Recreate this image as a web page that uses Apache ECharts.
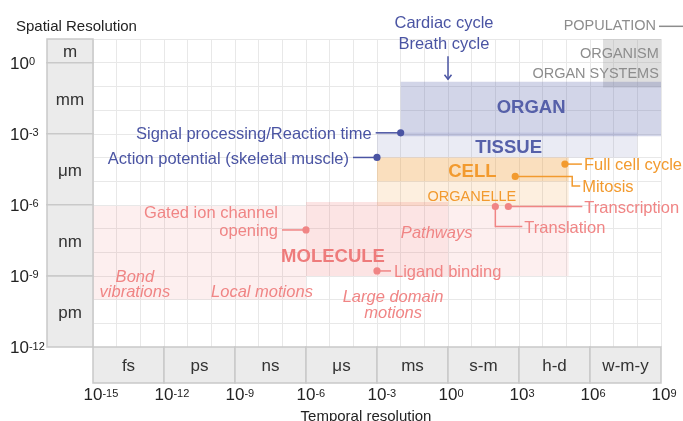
<!DOCTYPE html>
<html>
<head>
<meta charset="utf-8">
<script src="https://cdn.jsdelivr.net/npm/echarts@6/dist/echarts.min.js"></script>
<style>
  html, body { margin: 0; padding: 0; background: #fff; }
  #chart { width: 683px; height: 421px; }
</style>
</head>
<body>
<div id="chart"></div>
<script>
// everything is in log10 units: time in seconds, size in metres
var spaceBands = ['m', 'mm', 'μm', 'nm', 'pm'];
var spaceBandRange = [[0, 1], [-3, 0], [-6, -3], [-9, -6], [-12, -9]];
var timeBands = ['fs', 'ps', 'ns', 'μs', 'ms', 's-m', 'h-d', 'w-m-y'];
var timeBandRange = [[-15, -12], [-12, -9], [-9, -6], [-6, -3], [-3, 0], [0, 3], [3, 6], [6, 9]];

// boxes covered by each level of organisation
var regionNames = ['ORGANISM', 'ORGAN', 'TISSUE', 'CELL', 'ORGANELLE', 'MOLECULE', 'MOLECULE', 'MOLECULE'];
var regionTime = [[6.55, 9], [-2, 9], [-3, 8], [-3, 5.1], [-3, 5.1], [-15, -6], [-6, 0], [0, 5.1]];
var regionSize = [[-1.05, 1], [-3.1, -0.8], [-4, -2.95], [-5, -4], [-6.05, -5], [-10, -6.05], [-9, -5.88], [-9, -6.05]];

// level names
var scaleLabels = ['POPULATION', 'ORGANISM', 'ORGAN SYSTEMS', 'ORGAN', 'TISSUE', 'CELL', 'ORGANELLE', 'MOLECULE'];
var scaleLabelTime = [8.79, 8.91, 8.91, 3.51, 2.56, 1.03, 1.01, -4.86];
var scaleLabelSize = [1.62, 0.45, -0.40, -1.84, -3.53, -4.55, -5.58, -8.12];

// molecular processes (no marker)
var processLabels = ['Bond\nvibrations', 'Local motions', 'Pathways', 'Large domain\nmotions'];
var processTime = [-13.23, -7.86, -0.48, -2.32];
var processSize = [-9.32, -9.63, -7.15, -10.18];

// single events with a marker
var eventNames = ['Cardiac cycle\nBreath cycle', 'Signal processing/Reaction time', 'Action potential (skeletal muscle)',
  'Full cell cycle', 'Mitosis', 'Transcription', 'Translation', 'Gated ion channel\nopening', 'Ligand binding'];
var eventTime = [0, -2, -3, 4.94, 2.84, 2.55, 2.0, -6, -3];
var eventSize = [-0.7, -2.96, -4, -4.28, -4.8, -6.07, -6.07, -7.06, -8.79];

var BLUE = '#4a54a3', BLUE2 = '#5660a9', ORANGE = '#f29a2e', PINK = '#f08585', PINK2 = '#ee7b7b', GRAY = '#8d8d8d';
var FONT = '"Liberation Sans", Arial, sans-serif';

var regionColors = ['rgba(150,150,150,0.3)', 'rgba(90,100,170,0.27)', 'rgba(90,100,170,0.13)',
  'rgba(240,150,40,0.3)', 'rgba(240,150,40,0.15)',
  'rgba(240,120,120,0.12)', 'rgba(240,120,120,0.2)', 'rgba(240,120,120,0.12)'];

var scaleStyle = [
  { color: GRAY, size: 14.5, align: 'right', line: true },
  { color: GRAY, size: 14.5, align: 'right' },
  { color: GRAY, size: 14.5, align: 'right' },
  { color: BLUE2, size: 18.5, weight: 'bold' },
  { color: BLUE2, size: 18.5, weight: 'bold' },
  { color: ORANGE, size: 18.5, weight: 'bold' },
  { color: ORANGE, size: 14.5 },
  { color: PINK2, size: 18.5, weight: 'bold' }
];
var processLineHeight = [15, 18, 18, 16];

// leader lines in pixels from the marker
var eventLayout = [
  { color: BLUE, dot: false, arrow: true, path: [[0, -23]], label: [-4, -47.5], align: 'center', lh: 21 },
  { color: BLUE, path: [[-25, 0]], label: [-29, 0], align: 'right' },
  { color: BLUE, path: [[-24, 0]], label: [-28, 0], align: 'right' },
  { color: ORANGE, path: [[17, 0]], label: [19, 0], align: 'left' },
  { color: ORANGE, path: [[57, 0], [57, 9.5], [65, 9.5]], label: [67, 9.5], align: 'left' },
  { color: PINK, path: [[74, 0]], label: [76, 0], align: 'left' },
  { color: PINK, path: [[0, 20], [27, 20]], label: [29, 20], align: 'left' },
  { color: PINK, path: [[-24, 0]], label: [-28, 9.2], align: 'right', va: 'bottom', lh: 18.4 },
  { color: PINK, path: [[14, 0]], label: [17, 0], align: 'left' }
];

// text baseline sits a little high with this font
var TEXT_DY = 1.7;

function textEl(x, y, text, o) {
  return {
    type: 'text', x: x, y: y + TEXT_DY, z2: 10,
    style: {
      text: text, fill: o.color, fontSize: o.size, fontFamily: FONT,
      fontWeight: o.weight || 'normal', fontStyle: o.italic ? 'italic' : 'normal',
      align: o.align || 'center', textAlign: o.align || 'center',
      verticalAlign: o.va || 'middle', textVerticalAlign: o.va || 'middle',
      lineHeight: o.lh
    }
  };
}

function renderRegion(params, api) {
  var a = api.coord([api.value(0), api.value(3)]);
  var b = api.coord([api.value(1), api.value(2)]);
  return {
    type: 'rect',
    shape: { x: a[0], y: a[1], width: b[0] - a[0], height: b[1] - a[1] },
    style: { fill: regionColors[params.dataIndex] }
  };
}

function renderScaleLabel(params, api) {
  var i = params.dataIndex, s = scaleStyle[i];
  var p = api.coord([api.value(0), api.value(1)]);
  var kids = [textEl(p[0], p[1], scaleLabels[i], s)];
  if (s.line) {
    kids.push({ type: 'line', shape: { x1: p[0] + 3, y1: p[1] + 2, x2: p[0] + 32, y2: p[1] + 2 },
      style: { stroke: GRAY, lineWidth: 1.5 } });
  }
  return { type: 'group', children: kids };
}

function renderProcess(params, api) {
  var i = params.dataIndex;
  var p = api.coord([api.value(0), api.value(1)]);
  return textEl(p[0], p[1], processLabels[i], { color: PINK, size: 16.5, italic: true, lh: processLineHeight[i] });
}

function renderEvent(params, api) {
  var i = params.dataIndex, L = eventLayout[i];
  var p = api.coord([api.value(0), api.value(1)]);
  var pts = [p].concat(L.path.map(function (d) { return [p[0] + d[0], p[1] + d[1]]; }));
  var kids = [{ type: 'polyline', shape: { points: pts }, style: { stroke: L.color, lineWidth: 1.5, fill: null } }];
  if (L.dot !== false) {
    kids.push({ type: 'circle', shape: { cx: p[0], cy: p[1], r: 3.6 }, style: { fill: L.color } });
  }
  if (L.arrow) {
    kids.push({ type: 'polyline', shape: { points: [[p[0] - 3.5, p[1] - 4.5], [p[0], p[1]], [p[0] + 3.5, p[1] - 4.5]] },
      style: { stroke: L.color, lineWidth: 1.5, fill: null } });
  }
  kids.push(textEl(p[0] + L.label[0], p[1] + L.label[1], eventNames[i],
    { color: L.color, size: 16.5, align: L.align, va: L.va, lh: L.lh }));
  return { type: 'group', children: kids };
}

function bandBox(x, y, w, h, text) {
  return {
    type: 'group', children: [
      { type: 'rect', shape: { x: x, y: y, width: w, height: h },
        style: { fill: '#ebebeb', stroke: '#c9c9c9', lineWidth: 1.5 } },
      textEl(x + w / 2, y + h / 2, text, { color: '#333', size: 17 })
    ]
  };
}

function renderSpaceBand(params, api) {
  var cs = params.coordSys;
  var r = spaceBandRange[params.dataIndex];
  var top = api.coord([-15, r[1]])[1], bottom = api.coord([-15, r[0]])[1];
  return bandBox(cs.x - 46, top, 46, bottom - top, spaceBands[params.dataIndex]);
}

function renderTimeBand(params, api) {
  var cs = params.coordSys;
  var r = timeBandRange[params.dataIndex];
  var left = api.coord([r[0], -12])[0], right = api.coord([r[1], -12])[0];
  return bandBox(left, cs.y + cs.height, right - left, 36, timeBands[params.dataIndex]);
}

function supText(e) { return e < 0 ? '-' + (-e) : String(e); }

var labelRich = {
  g: { fontSize: 11, fontFamily: FONT, color: 'transparent', verticalAlign: 'top', lineHeight: 11, padding: [3, 0, 0, 0] },
  b: { fontSize: 17, fontFamily: FONT, color: '#222', lineHeight: 18, padding: [3, 0, 0, 0] },
  s: { fontSize: 11, fontFamily: FONT, color: '#222', verticalAlign: 'top', lineHeight: 11, padding: [3, 0, 0, 0] }
};

var chart = echarts.init(document.getElementById('chart'));
chart.setOption({
  animation: false,
  title: {
    text: 'Spatial Resolution', left: 11, top: 14,
    textStyle: { fontSize: 15, fontWeight: 'normal', color: '#222', fontFamily: FONT }
  },
  grid: { left: 93, right: 22, top: 39, bottom: 74, outerBoundsMode: 'none' },
  xAxis: {
    type: 'value', min: -15, max: 9, interval: 1,
    axisLine: { show: false }, axisTick: { show: false },
    splitLine: { lineStyle: { color: '#e8e8e8', width: 1 } },
    axisLabel: {
      interval: 0, margin: 38, rich: labelRich,
      formatter: function (v) {
        var e = Math.round(v);
        if (e % 3 !== 0) return '';
        return '{g|' + supText(e) + '}{b|10}{s|' + supText(e) + '}';
      }
    },
    name: 'Temporal resolution', nameLocation: 'middle', nameGap: 61,
    nameTextStyle: { fontSize: 15, color: '#222', fontFamily: FONT, padding: [0, 22, 0, 0] }
  },
  yAxis: {
    type: 'value', min: -12, max: 1, interval: 1,
    axisLine: { show: false }, axisTick: { show: false },
    splitLine: { lineStyle: { color: '#e8e8e8', width: 1 } },
    axisLabel: {
      interval: 0, margin: 83, align: 'left', rich: labelRich,
      formatter: function (v) {
        var e = Math.round(v);
        if (e % 3 !== 0) return '';
        return '{b|10}{s|' + supText(e) + '}';
      }
    }
  },
  series: [
    {
      type: 'custom', renderItem: renderRegion, silent: true, z: 1,
      encode: { x: [0, 1], y: [2, 3] },
      data: regionTime.map(function (t, i) { return [t[0], t[1], regionSize[i][0], regionSize[i][1]]; })
    },
    {
      type: 'custom', renderItem: renderSpaceBand, silent: true, z: 2,
      data: spaceBandRange.map(function (r) { return [-15, r[0]]; })
    },
    {
      type: 'custom', renderItem: renderTimeBand, silent: true, z: 2,
      data: timeBandRange.map(function (r) { return [r[0], -12]; })
    },
    {
      type: 'custom', renderItem: renderScaleLabel, silent: true, z: 5,
      data: scaleLabelTime.map(function (t, i) { return [t, scaleLabelSize[i]]; })
    },
    {
      type: 'custom', renderItem: renderProcess, silent: true, z: 5,
      data: processTime.map(function (t, i) { return [t, processSize[i]]; })
    },
    {
      type: 'custom', renderItem: renderEvent, silent: true, z: 6,
      data: eventTime.map(function (t, i) { return [t, eventSize[i]]; })
    }
  ]
});
</script>
</body>
</html>
